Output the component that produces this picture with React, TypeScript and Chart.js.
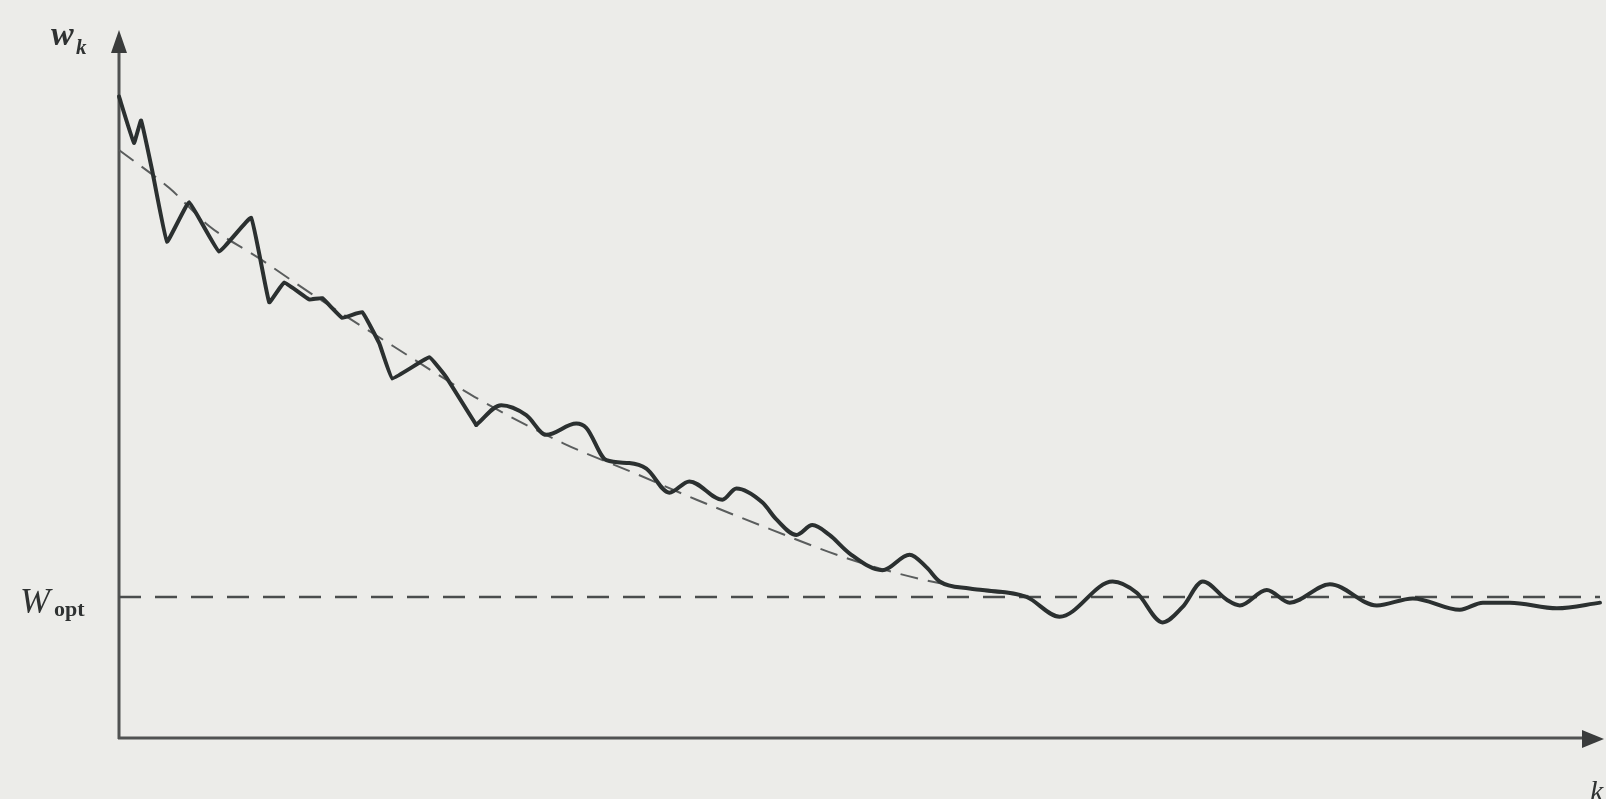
import React, { useEffect, useRef } from "react";
import { Chart, registerables } from "chart.js";

Chart.register(...registerables);

// Noisy weight trajectory w_k
const kNoisy = [
  0, 1.01, 1.49, 2.23, 3.24, 4.73, 6.76, 8.92, 10.14, 11.15, 12.84, 13.72, 15.07, 16.42,
  17.57, 18.45, 20.95, 22.09, 24.12, 25.81, 27.5, 28.85, 30.88, 31.55, 32.91, 34.46, 35.61,
  37.16, 38.51, 40.74, 41.69, 43.45, 44.39, 45.74, 46.82, 47.97, 49.32, 51.55, 53.38, 54.53,
  55.41, 57.43, 58.3, 61.28, 63.51, 67.09, 68.72, 70.47, 71.82, 73.18, 74.8, 75.68, 77.5,
  79.05, 81.76, 84.93, 87.36, 90.54, 92.09, 93.92, 97.09, 100,
];
const wNoisy = [
  4.55, 4.22, 4.38, 4.03, 3.52, 3.8, 3.45, 3.69, 3.09, 3.23, 3.11, 3.12, 2.98, 3.02,
  2.8, 2.55, 2.7, 2.56, 2.22, 2.36, 2.29, 2.15, 2.23, 2.2, 1.97, 1.95, 1.91,
  1.74, 1.82, 1.69, 1.77, 1.67, 1.55, 1.44, 1.51, 1.44, 1.31, 1.19, 1.3, 1.21,
  1.11, 1.06, 1.05, 1.0, 0.86, 1.11, 1.03, 0.82, 0.93, 1.11, 0.98, 0.94, 1.05,
  0.96, 1.09, 0.94, 0.99, 0.91, 0.96, 0.96, 0.92, 0.96,
];
// index where the jagged early transient gives way to smooth oscillation
const smoothFrom = 18;

// Smooth mean trajectory (dashed)
const kTrend = [0, 3.4, 6.1, 9.5, 13, 18.5, 24, 30, 35, 39, 44, 49, 54, 58, 62];
const wTrend = [4.17, 3.9, 3.63, 3.4, 3.15, 2.78, 2.42, 2.09, 1.87, 1.69, 1.48, 1.28, 1.13, 1.05, 1.0];

// Optimum weight level
const kOpt = [0, 100];
const wOpt = 1.0;

// Text labels
const yLabel = ["w", "k"];
const optLabel = ["W", "opt"];
const xLabel = ["k"];

const BG = "#ecece9";
const INK = "#2b3030";
const AXIS = "#505252";

export default function App() {
  const ref = useRef<HTMLCanvasElement | null>(null);

  useEffect(() => {
    if (!ref.current) return;

    const decor = {
      id: "decor",
      beforeDraw(chart: any) {
        const c = chart.ctx;
        c.save();
        c.fillStyle = BG;
        c.fillRect(0, 0, chart.width, chart.height);
        c.restore();
      },
      beforeDatasetsDraw(chart: any) {
        const c = chart.ctx;
        const xs = chart.scales.x;
        const ys = chart.scales.y;
        const x0 = xs.getPixelForValue(0);
        const y0 = ys.getPixelForValue(0);
        const yTop = ys.getPixelForValue(5);
        c.save();
        c.strokeStyle = AXIS;
        c.fillStyle = "#3a3c3c";
        c.lineWidth = 3;
        // y axis
        c.beginPath();
        c.moveTo(x0, y0 + 1);
        c.lineTo(x0, yTop + 12);
        c.stroke();
        c.beginPath();
        c.moveTo(x0, yTop - 3);
        c.lineTo(x0 - 8, yTop + 20);
        c.lineTo(x0 + 8, yTop + 20);
        c.closePath();
        c.fill();
        // x axis
        const xEnd = chart.width - 2;
        c.beginPath();
        c.moveTo(x0 - 1, y0);
        c.lineTo(xEnd - 14, y0);
        c.stroke();
        c.beginPath();
        c.moveTo(xEnd, y0 + 1);
        c.lineTo(xEnd - 22, y0 - 8);
        c.lineTo(xEnd - 22, y0 + 10);
        c.closePath();
        c.fill();

        // labels
        c.fillStyle = "#2f3232";
        c.textBaseline = "alphabetic";
        c.font = "italic bold 34px 'Liberation Serif', serif";
        c.fillText(yLabel[0], 51, 45);
        c.font = "italic bold 21px 'Liberation Serif', serif";
        c.fillText(yLabel[1], 76, 54);

        const yOpt = ys.getPixelForValue(wOpt);
        c.font = "italic 36px 'Liberation Serif', serif";
        c.fillText(optLabel[0], 20, yOpt + 16);
        c.font = "bold 22px 'Liberation Serif', serif";
        c.fillText(optLabel[1], 54, yOpt + 19);

        c.font = "italic 30px 'Liberation Serif', serif";
        c.fillText(xLabel[0], chart.width - 16, chart.height + 2);
        c.restore();
      },
    };

    const noisyPts = kNoisy.map((k, i) => ({ x: k, y: wNoisy[i] }));

    const chart = new Chart(ref.current, {
      type: "line",
      data: {
        datasets: [
          {
            label: "w_k (transient)",
            data: noisyPts.slice(0, smoothFrom + 1),
            borderColor: INK,
            borderWidth: 4,
            pointRadius: 0,
            tension: 0.08,
            borderJoinStyle: "round",
            borderCapStyle: "round",
            clip: false,
            fill: false,
          },
          {
            label: "w_k",
            data: noisyPts.slice(smoothFrom),
            borderColor: INK,
            borderWidth: 4,
            pointRadius: 0,
            cubicInterpolationMode: "monotone",
            borderJoinStyle: "round",
            borderCapStyle: "round",
            clip: false,
            fill: false,
          },
          {
            label: "mean",
            data: kTrend.map((k, i) => ({ x: k, y: wTrend[i] })),
            borderColor: "#5a5d5d",
            borderWidth: 2,
            borderDash: [18, 10],
            pointRadius: 0,
            cubicInterpolationMode: "monotone",
            clip: false,
            fill: false,
          },
          {
            label: "W_opt",
            data: kOpt.map((k) => ({ x: k, y: wOpt })),
            borderColor: "#4a4d4d",
            borderWidth: 2.5,
            borderDash: [22, 14],
            pointRadius: 0,
            clip: false,
            fill: false,
          },
        ],
      },
      options: {
        responsive: false,
        maintainAspectRatio: false,
        animation: false,
        layout: { padding: { left: 119, right: 6, top: 33, bottom: 61 } },
        scales: {
          x: { type: "linear", min: 0, max: 100, display: false },
          y: { type: "linear", min: 0, max: 5, display: false },
        },
        plugins: {
          legend: { display: false },
          tooltip: { enabled: false },
        },
      },
      plugins: [decor],
    } as any);

    return () => chart.destroy();
  }, []);

  return (
    <div style={{ position: "fixed", left: 0, top: 0, width: 1606, height: 799, background: BG }}>
      <canvas ref={ref} width={1606} height={799} style={{ width: 1606, height: 799, display: "block" }} />
    </div>
  );
}
